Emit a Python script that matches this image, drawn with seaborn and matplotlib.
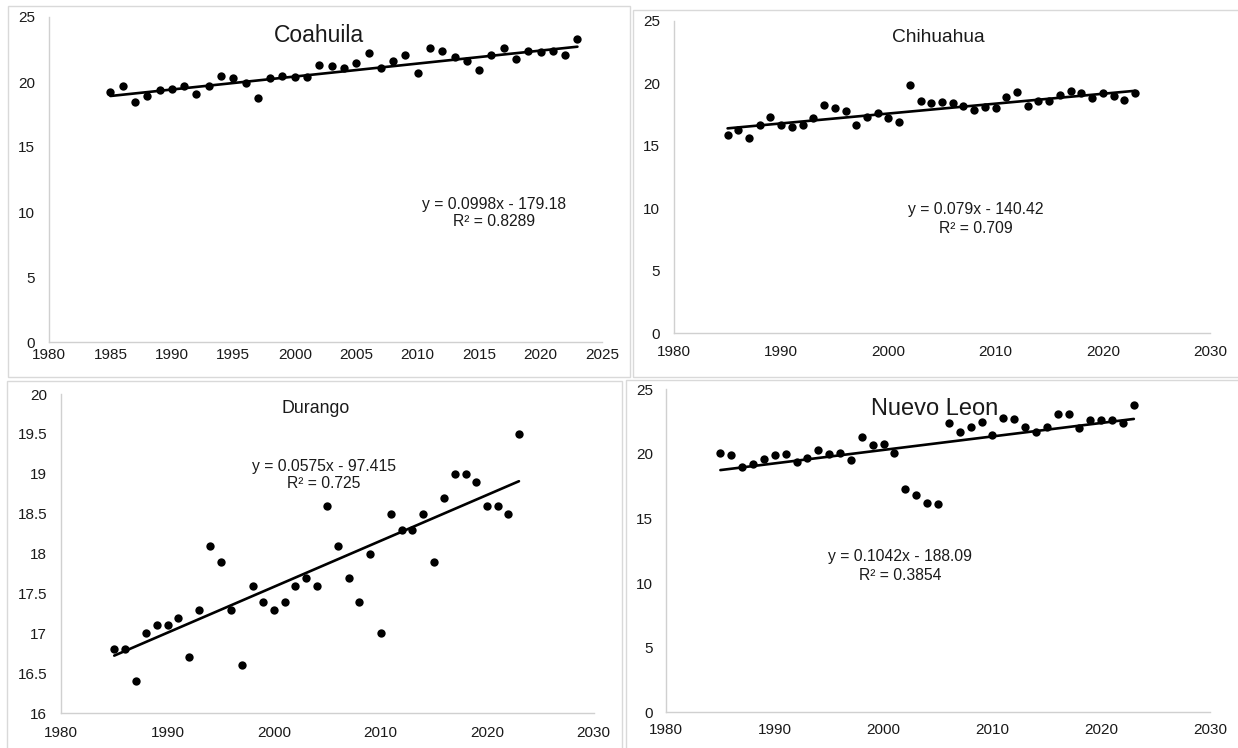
import matplotlib
matplotlib.use("Agg")
import matplotlib.pyplot as plt
from matplotlib.patches import Rectangle
from matplotlib.ticker import MultipleLocator, FormatStrFormatter
import numpy as np
import pandas as pd
import seaborn as sns

# ---- data -------------------------------------------------------------
years = list(range(1985, 2024))

coahuila = [19.2, 19.7, 18.5, 18.9, 19.4, 19.5, 19.7, 19.1, 19.7, 20.5,
            20.3, 19.9, 18.8, 20.3, 20.5, 20.4, 20.4, 21.3, 21.2, 21.1,
            21.5, 22.2, 21.1, 21.6, 22.1, 20.7, 22.6, 22.4, 21.9, 21.6,
            20.9, 22.1, 22.6, 21.8, 22.4, 22.3, 22.4, 22.1, 23.3]

chihuahua = [15.9, 16.3, 15.6, 16.7, 17.3, 16.7, 16.5, 16.7, 17.2, 18.3,
             18.0, 17.8, 16.7, 17.3, 17.6, 17.2, 16.9, 19.9, 18.6, 18.4,
             18.5, 18.4, 18.2, 17.9, 18.1, 18.0, 18.9, 19.3, 18.2, 18.6,
             18.6, 19.1, 19.4, 19.2, 18.8, 19.2, 19.0, 18.7, 19.2]

durango = [16.8, 16.8, 16.4, 17.0, 17.1, 17.1, 17.2, 16.7, 17.3, 18.1,
           17.9, 17.3, 16.6, 17.6, 17.4, 17.3, 17.4, 17.6, 17.7, 17.6,
           18.6, 18.1, 17.7, 17.4, 18.0, 17.0, 18.5, 18.3, 18.3, 18.5,
           17.9, 18.7, 19.0, 19.0, 18.9, 18.6, 18.6, 18.5, 19.5]

nuevo_leon = [20.1, 19.9, 19.0, 19.2, 19.6, 19.9, 20.0, 19.4, 19.7, 20.3,
              20.0, 20.1, 19.5, 21.3, 20.7, 20.8, 20.1, 17.3, 16.8, 16.2,
              16.1, 22.4, 21.7, 22.1, 22.5, 21.5, 22.8, 22.7, 22.1, 21.7,
              22.1, 23.1, 23.1, 22.0, 22.6, 22.6, 22.6, 22.4, 23.8]

states = ["Coahuila", "Chihuahua", "Durango", "Nuevo Leon"]
series = [coahuila, chihuahua, durango, nuevo_leon]
slopes = [0.0998, 0.079, 0.0575, 0.1042]
intercepts = [-179.18, -140.42, -97.415, -188.09]
r_squared = [0.8289, 0.709, 0.725, 0.3854]

# ---- figure layout (pixel based) --------------------------------------
W, H = 1238, 748
sns.set_theme(style="white")
plt.rcParams["font.family"] = ["Liberation Sans", "DejaVu Sans"]

fig = plt.figure(figsize=(W / 100, H / 100), dpi=100)
fig.patch.set_facecolor("white")

def fx(x):
    return x / W

def fy(y):
    return 1 - y / H

# chart-area frames
frames = [(8, 6, 630, 377), (633, 10, 1250, 377),
          (7, 381, 622, 760), (626, 380, 1250, 760)]
for x0, y0, x1, y1 in frames:
    fig.patches.append(Rectangle((fx(x0), fy(y1)), fx(x1 - x0), (y1 - y0) / H,
                                 transform=fig.transFigure, fill=False,
                                 edgecolor="#d9d9d9", linewidth=1.0))

# per-panel plot area: left, right, top, bottom (px), axis ranges, tick steps
panels = [
    dict(box=(49, 602, 17, 342), xlim=(1980, 2025), xstep=5, ylim=(0, 25), ystep=5,
         xpad=4.5, ypad=10,
         title=(319, 42, 16.5), eq=(494, 209.5, 226.5)),
    dict(box=(674, 1210, 20.7, 333.5), xlim=(1980, 2030), xstep=10, ylim=(0, 25), ystep=5,
         xpad=8.5, ypad=10,
         title=(938, 42.5, 13.8), eq=(976, 214, 233)),
    dict(box=(61, 593.5, 394, 713.3), xlim=(1980, 2030), xstep=10, ylim=(16, 20), ystep=0.5,
         xpad=9.5, ypad=10,
         title=(316, 413, 12.8), eq=(323.5, 471.5, 488.5)),
    dict(box=(666, 1210, 389.3, 712.3), xlim=(1980, 2030), xstep=10, ylim=(0, 25), ystep=5,
         xpad=7.5, ypad=9.5,
         title=(934.5, 415, 17), eq=(900, 561.5, 580)),
]

spine_color = "#d0d0d0"

for name, vals, m, b, r2, p in zip(states, series, slopes, intercepts, r_squared, panels):
    x0, x1, yt, yb = p["box"]
    ax = fig.add_axes([fx(x0), fy(yb), (x1 - x0) / W, (yb - yt) / H])
    ax.set_facecolor("none")

    df = pd.DataFrame({"year": years, "temp": vals})
    sns.scatterplot(data=df, x="year", y="temp", ax=ax, color="black",
                    s=36, linewidth=0, zorder=3, clip_on=False)

    # linear trend from the stated equation
    tx = np.array([min(years), max(years)], dtype=float)
    trend = pd.DataFrame({"year": tx, "temp": m * tx + b})
    sns.lineplot(data=trend, x="year", y="temp", ax=ax, color="black",
                 linewidth=1.9, zorder=2)

    ax.set_xlim(*p["xlim"])
    ax.set_ylim(*p["ylim"])
    ax.xaxis.set_major_locator(MultipleLocator(p["xstep"]))
    ax.yaxis.set_major_locator(MultipleLocator(p["ystep"]))
    ax.yaxis.set_major_formatter(FormatStrFormatter("%g"))
    ax.set_xlabel("")
    ax.set_ylabel("")

    for side in ("top", "right"):
        ax.spines[side].set_visible(False)
    for side in ("left", "bottom"):
        ax.spines[side].set_color(spine_color)
        ax.spines[side].set_linewidth(1.0)

    ax.tick_params(axis="x", length=0, pad=p["xpad"], labelsize=11, colors="#1a1a1a")
    ax.tick_params(axis="y", length=0, pad=p["ypad"], labelsize=11, colors="#1a1a1a")

    tx_px, ty_px, tsize = p["title"]
    fig.text(fx(tx_px), fy(ty_px), name, ha="center", va="baseline",
             fontsize=tsize, color="#1a1a1a")

    ex, ey1, ey2 = p["eq"]
    sign = "-" if b < 0 else "+"
    fig.text(fx(ex), fy(ey1), f"y = {m:g}x {sign} {abs(b):g}", ha="center",
             va="baseline", fontsize=11.3, color="#1a1a1a")
    fig.text(fx(ex), fy(ey2), f"R\u00b2 = {r2:g}", ha="center",
             va="baseline", fontsize=11.3, color="#1a1a1a")

fig.savefig("out.png", dpi=100, facecolor="white")
